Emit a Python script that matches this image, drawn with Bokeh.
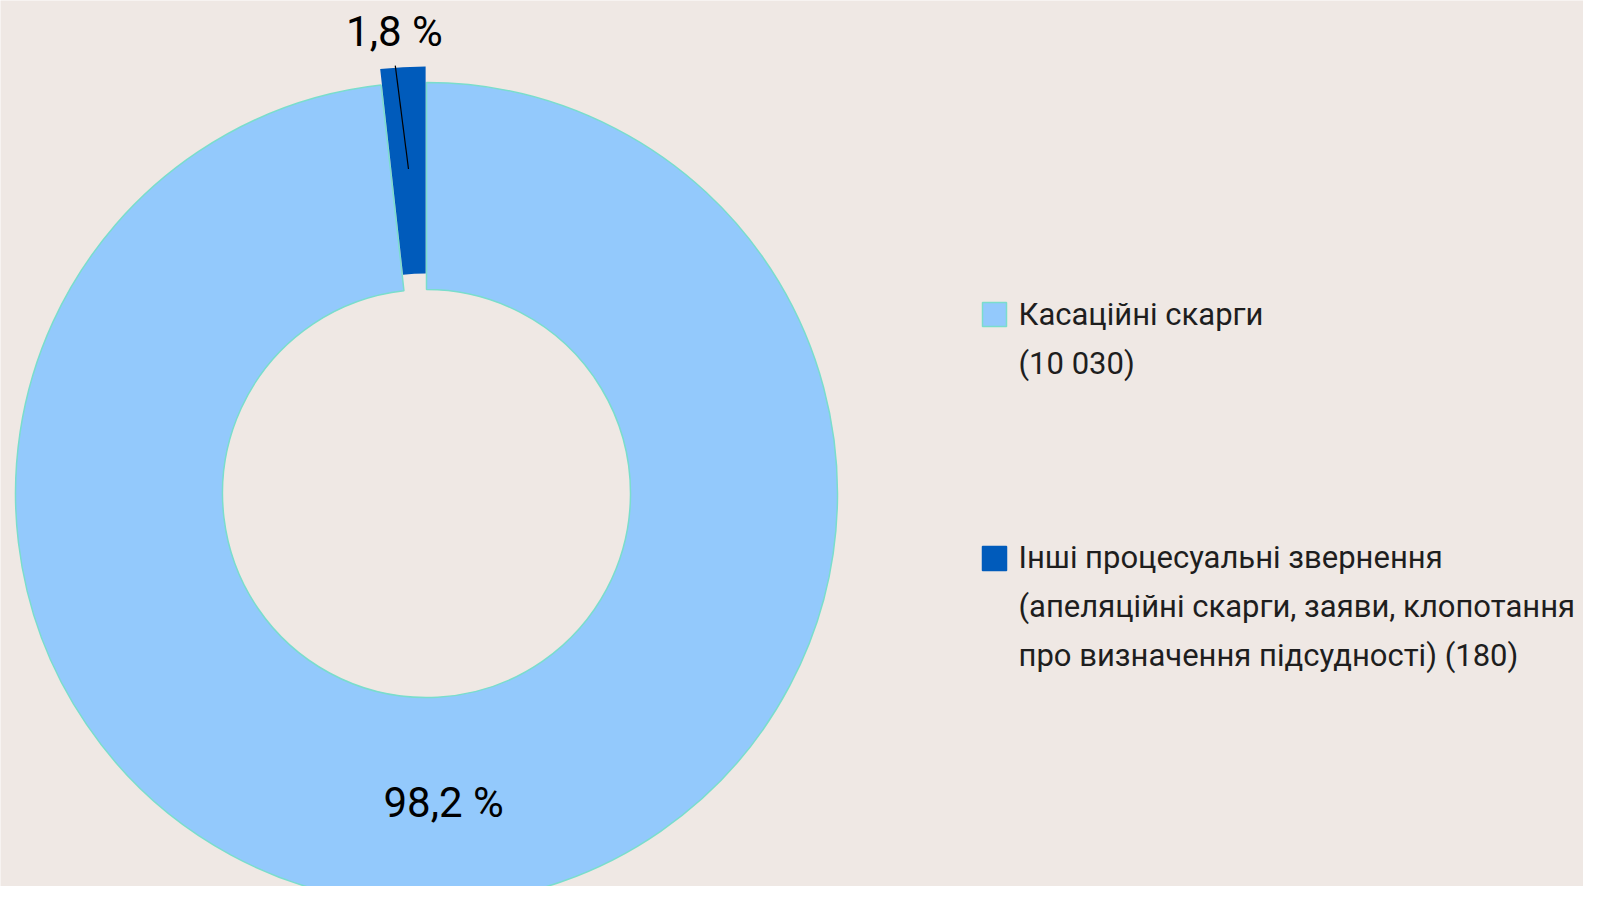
import math
from bokeh.plotting import figure
from bokeh.models import Range1d
from bokeh.core.properties import value
from bokeh.embed import file_html
from bokeh.resources import INLINE

# ---- data ----
categories = ["Касаційні скарги", "Інші процесуальні звернення"]
counts = [10030, 180]
pct_labels = ["98,2 %", "1,8 %"]
legend_lines = [
    ["Касаційні скарги", "(10 030)"],
    ["Інші процесуальні звернення",
     "(апеляційні скарги, заяви, клопотання",
     "про визначення підсудності) (180)"],
]
colors = ["#93C9FC", "#005BBB"]
outline = ["#7ADDCC", None]

W, H = 1583, 886
FONT = "Roboto"
BG = "#EFE8E4"

p = figure(width=W, height=H, output_backend="svg", toolbar_location=None,
           x_range=Range1d(0, W), y_range=Range1d(0, H), min_border=0,
           background_fill_color=BG, border_fill_color=BG, outline_line_color=None)
p.axis.visible = False
p.grid.visible = False

cx, cy = 426, H - 493
r_out, r_in = 411, 204
explode = [0, 16]

total = sum(counts)
dark_span = counts[1] / total * 2 * math.pi
start = [math.pi / 2 + dark_span, math.pi / 2]
end = [math.pi / 2 + 2 * math.pi, math.pi / 2 + dark_span]
mid = [(s + e) / 2 for s, e in zip(start, end)]

xs = [cx + explode[i] * math.cos(mid[i]) for i in range(2)]
ys = [cy + explode[i] * math.sin(mid[i]) for i in range(2)]

p.annular_wedge(x=[xs[0]], y=[ys[0]], inner_radius=r_in, outer_radius=r_out,
                start_angle=[start[0]], end_angle=[end[0]],
                fill_color=colors[0], line_color=outline[0], line_width=1.5)
p.annular_wedge(x=[xs[1]], y=[ys[1]], inner_radius=r_in, outer_radius=r_out,
                start_angle=[start[1]], end_angle=[end[1]],
                fill_color=colors[1], line_color=None)

# leader line for small slice
a1, a2 = mid[1] + math.radians(1.0), mid[1]
p.line(x=[cx + 429 * math.cos(a1), cx + 325 * math.cos(a2)],
       y=[cy + 429 * math.sin(a1), cy + 325 * math.sin(a2)],
       line_color="black", line_width=1.2)

# percentage labels
lab_r = [309, 463]
lab_da = [0.0, math.radians(0.8)]
p.text(x=[cx + lab_r[i] * math.cos(mid[i] + lab_da[i]) for i in range(2)],
       y=[cy + lab_r[i] * math.sin(mid[i] + lab_da[i]) for i in range(2)],
       text=pct_labels, text_font=value(FONT), text_font_size="42px",
       text_color="black", text_align="center", text_baseline="middle")

# legend
sq = 24
lx = 982 + sq / 2
tops = [H - 302, H - 546]
baselines = [[314, 363], [557, 606, 655]]
for i in range(2):
    p.rect(x=[lx], y=[tops[i] - sq / 2], width=sq, height=sq,
           fill_color=colors[i], line_color=outline[i] if outline[i] else colors[i],
           line_width=1.5)
    lines = legend_lines[i]
    p.text(x=[1018] * len(lines),
           y=[H - b for b in baselines[i]],
           text=lines, text_font=value(FONT), text_font_size="31px",
           text_color="#1E1E1E", text_align="left", text_baseline="alphabetic")

open("out.html", "w").write(file_html(p, INLINE))
